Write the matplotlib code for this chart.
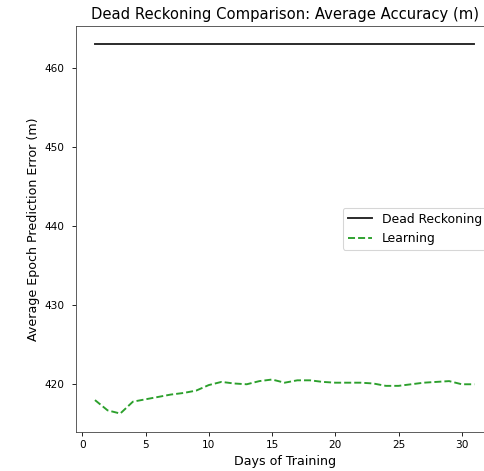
import matplotlib
matplotlib.use("Agg")
import matplotlib.pyplot as plt

days = list(range(1, 32))
dead_reckoning = [463.0] * 31
learning = [418.0, 416.7, 416.3, 417.8, 418.1, 418.4, 418.7, 418.9, 419.2, 419.9,
            420.3, 420.1, 420.0, 420.4, 420.6, 420.2, 420.5, 420.5, 420.3, 420.2,
            420.2, 420.2, 420.1, 419.8, 419.8, 420.0, 420.2, 420.3, 420.4, 420.0, 420.0]

DPI = 76
fig = plt.figure(figsize=(484 / DPI, 471 / DPI), dpi=DPI)
ax = fig.add_axes([0.157, 0.0828, 1.0194 - 0.157, 0.9454 - 0.0828])
ax.plot(days, dead_reckoning, color='k', linestyle='-', label='Dead Reckoning',
        alpha=0.85, linewidth=1.8)
ax.plot(days, learning, color='tab:green', linestyle='--', label='Learning', linewidth=1.8)
ax.set_title('Dead Reckoning Comparison: Average Accuracy (m)', fontsize=14)
ax.set_xlabel('Days of Training', fontsize=12)
ax.set_ylabel('Average Epoch Prediction Error (m)', fontsize=12)
ax.set_yticks([420, 430, 440, 450, 460])
ax.tick_params(axis='y', pad=7.5, labelsize=10)
ax.tick_params(axis='x', pad=4.5, labelsize=10)
for s in ax.spines.values():
    s.set_edgecolor('#444444')
ax.legend(loc='center right', fontsize=11.7)
fig.savefig('out.png', dpi=DPI)
